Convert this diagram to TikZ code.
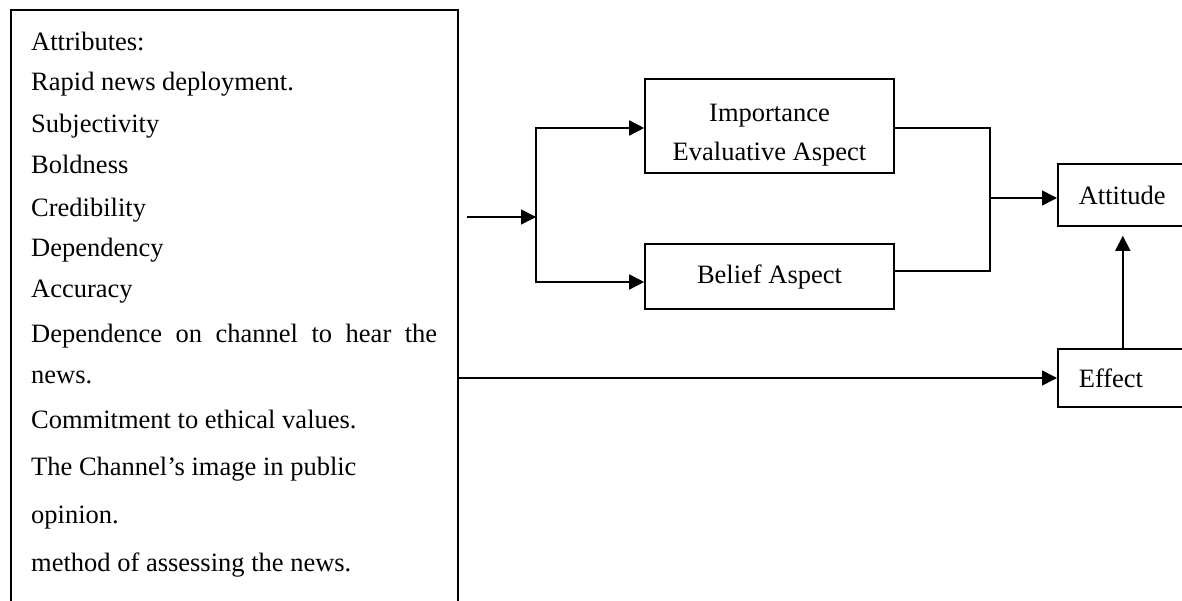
\documentclass[tikz,border=0pt]{standalone}
\usepackage{fontspec}
\setmainfont{Liberation Serif}
\usetikzlibrary{arrows.meta,positioning}

\begin{document}
\begin{tikzpicture}[
    x=1pt, y=-1pt,
    every node/.style={font=\fontsize{26.5}{39}\selectfont},
    box/.style={draw, line width=1.6pt, inner sep=0pt},
    sidebox/.style={box, anchor=west, text width=88pt, inner xsep=21pt, align=left},
    wire/.style={line width=1.6pt},
    arr/.style={wire, -{Triangle[length=15pt,width=15pt]}},
  ]
  \useasboundingbox (0,0) rectangle (1182,601);

  % attribute list
  \node[box, anchor=north west, minimum width=447pt, minimum height=640pt] (attr) at (10,9) {};
  \foreach \yb/\txt [count=\i] in {51/Attributes:, 91/Rapid news deployment., 133/Subjectivity,
      174/Boldness, 217/Credibility, 257/Dependency, 298/Accuracy,
      342/{\makebox[406pt][s]{Dependence on channel to hear the}}, 383/news.,
      428/Commitment to ethical values., 475/The Channel’s image in public,
      523/opinion., 571/method of assessing the news.}
    \node[anchor=base west, inner sep=0pt] (item\i) at (31,\yb) {\txt};

  % aspects
  \node[box, minimum width=249pt, minimum height=94pt] (imp) at (769.5,126) {};
  \node[align=center, anchor=north, inner sep=0pt] (imptxt) at (769.5,103.5) {Importance\\Evaluative Aspect};
  \node[box, minimum width=249pt, minimum height=65pt] (bel) at (769.5,276.5) {Belief Aspect};

  % outcomes
  \node[sidebox, minimum height=62pt] (att) at (1057,195) {Attitude};
  \node[sidebox, minimum height=58pt] (eff) at (1057,378) {Effect};

  \coordinate (src) at (467,217);
  \coordinate (jl) at (536,217);
  \coordinate (jr) at (990,198);

  \draw[arr] (src) -- (jl);
  \draw[arr] (jl) |- ([yshift=-2pt]imp.west);
  \draw[arr] (jl) |- ([yshift=-5.5pt]bel.west);
  \draw[wire] ([yshift=-2pt]imp.east) -| (jr) |- ([yshift=5.5pt]bel.east);
  \draw[arr] (jr) -- (jr -| att.west);
  \draw[arr] (attr.east |- eff.west) -- (eff.west);
  \draw[arr] (eff.north) -- ([yshift=-9pt]att.south);
\end{tikzpicture}
\end{document}
